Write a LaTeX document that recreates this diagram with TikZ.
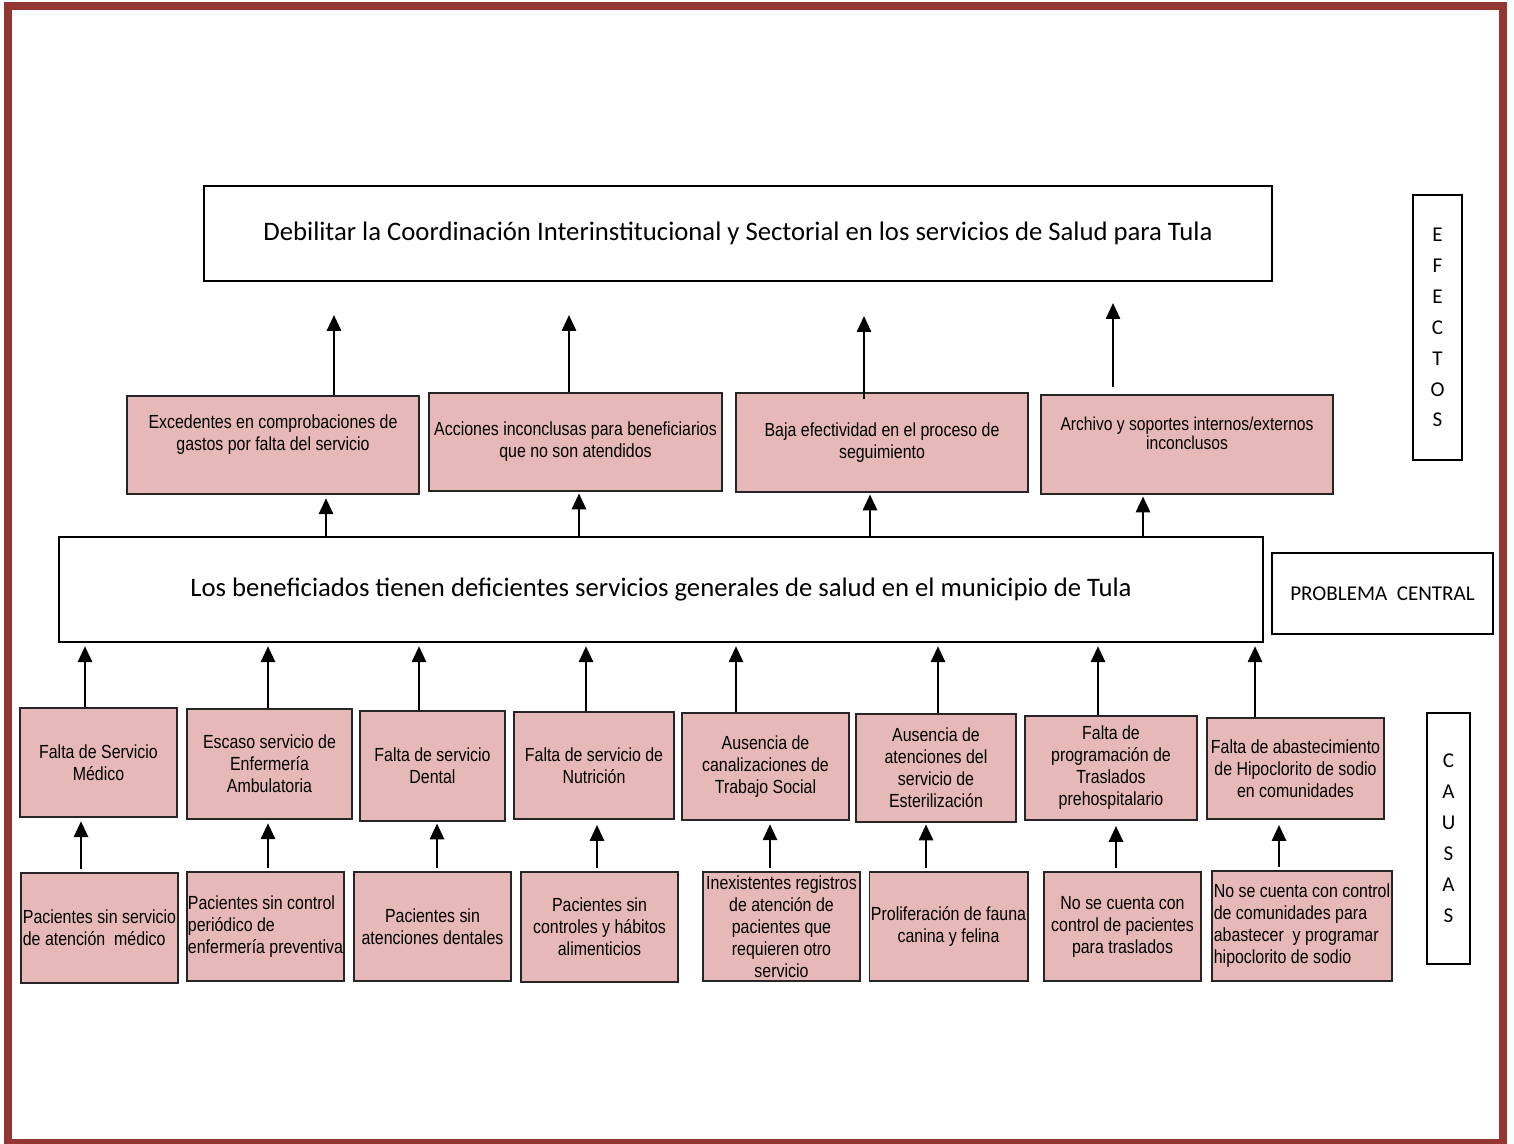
\documentclass[tikz,border=0pt]{standalone}
\usepackage{fontspec}
\setmainfont{Carlito}
\newfontfamily\narrowfont[FakeStretch=0.84]{Liberation Sans}
\usetikzlibrary{arrows.meta}
\definecolor{framered}{RGB}{148,54,52}
\definecolor{boxpink}{RGB}{230,184,183}

\begin{document}
\begin{tikzpicture}[%
    x=0.02cm, y=-0.02cm,
    every node/.style={inner sep=1pt},
    wide/.style={draw, line width=0.8pt, font=\fontsize{15.2}{18}\selectfont},
    tag/.style={draw, line width=0.8pt, align=center, font=\fontsize{12}{17.6}\selectfont},
    box/.style={draw=black!85, fill=boxpink, line width=0.8pt, align=center,
      font=\narrowfont\fontsize{10.8}{12.5}\selectfont},
    leftbox/.style={box, align=left, inner xsep=0pt},
    up/.style={-{Triangle[width=8pt,length=9pt]}, line width=1.4pt}
  ]
  \useasboundingbox (0,0) rectangle (1514,1143);
  \draw[framered, line width=4.6pt] (8,6) rectangle (1503,1143);

  % efectos
  \node[wide, minimum width=21.36cm, minimum height=1.9cm] (Top) at (738,233.5)
    {Debilitar la Coordinación Interinstitucional y Sectorial en los servicios de Salud para Tula};
  \node[box, minimum width=5.84cm, minimum height=1.96cm] (E1) at (273,445)
    {Excedentes en comprobaciones de\\gastos por falta del servicio\\[2pt]};
  \node[box, minimum width=5.86cm, minimum height=1.96cm] (E2) at (575.5,442)
    {Acciones inconclusas para beneficiarios\\que no son atendidos};
  \node[box, minimum width=5.84cm, minimum height=1.98cm] (E3) at (882,442.5)
    {Baja efectividad en el proceso de\\seguimiento};
  \node[box, minimum width=5.84cm, minimum height=1.98cm,
    font=\narrowfont\fontsize{10.6}{11}\selectfont] (E4) at (1187,444.5)
    {Archivo y soportes internos/externos\\inconclusos\\[2pt]};

  % problema central
  \node[wide, minimum width=24.08cm, minimum height=2.1cm] (Central) at (661,589.5)
    {Los beneficiados tienen deficientes servicios generales de salud en el municipio de Tula};

  % causas
  \node[box, minimum width=3.14cm, minimum height=2.18cm] (C1) at (98.5,762.5)
    {Falta de Servicio\\Médico};
  \node[box, minimum width=3.3cm, minimum height=2.2cm] (C2) at (269.5,764)
    {Escaso servicio de\\Enfermería\\Ambulatoria};
  \node[box, minimum width=2.9cm, minimum height=2.2cm] (C3) at (432.5,766)
    {Falta de servicio\\Dental};
  \node[box, minimum width=3.2cm, minimum height=2.14cm] (C4) at (594,765.5)
    {Falta de servicio de\\Nutrición};
  \node[box, minimum width=3.34cm, minimum height=2.14cm] (C5) at (765.5,766.5)
    {Ausencia de\\canalizaciones de\\Trabajo Social};
  \node[box, minimum width=3.2cm, minimum height=2.16cm] (C6) at (936,768)
    {Ausencia de\\atenciones del\\servicio de\\Esterilización};
  \node[box, minimum width=3.44cm, minimum height=2.08cm] (C7) at (1111,768)
    {Falta de\\programación de\\Traslados\\prehospitalario};
  \node[box, minimum width=3.54cm, minimum height=2.02cm] (C8) at (1295.5,768.5)
    {Falta de abastecimiento\\de Hipoclorito de sodio\\en comunidades};

  \node[leftbox, minimum width=3.14cm, minimum height=2.2cm] (R1) at (99.5,928)
    {Pacientes sin servicio\\de atención~ médico};
  \node[leftbox, minimum width=3.14cm, minimum height=2.18cm] (R2) at (265.5,926.5)
    {Pacientes sin control\\periódico de\\enfermería preventiva};
  \node[box, minimum width=3.14cm, minimum height=2.18cm] (R3) at (432.5,926.5)
    {Pacientes sin\\atenciones dentales};
  \node[box, minimum width=3.14cm, minimum height=2.2cm] (R4) at (599.5,927)
    {Pacientes sin\\controles y hábitos\\alimenticios};
  \node[box, minimum width=3.14cm, minimum height=2.18cm] (R5) at (781.5,926.5)
    {Inexistentes registros\\de atención de\\pacientes que\\requieren otro\\servicio};
  \node[box, minimum width=3.14cm, minimum height=2.18cm] (R6) at (948.5,926.5)
    {Proliferación de fauna\\canina y felina};
  \node[box, minimum width=3.14cm, minimum height=2.18cm] (R7) at (1122.5,926.5)
    {No se cuenta con\\control de pacientes\\para traslados};
  \node[leftbox, minimum width=3.6cm, minimum height=2.2cm] (R8) at (1302,926)
    {No se cuenta con control\\de comunidades para\\abastecer~ y programar\\hipoclorito de sodio};

  % etiquetas laterales
  \node[tag, minimum width=0.98cm, minimum height=5.3cm] (Efectos) at (1437.5,327.5)
    {E\\F\\E\\C\\T\\O\\S};
  \node[tag, minimum width=4.42cm, minimum height=1.62cm] (Problema) at (1382.5,593.5)
    {PROBLEMA~ CENTRAL};
  \node[tag, minimum width=0.86cm, minimum height=5.02cm] (Causas) at (1448.5,838.5)
    {C\\A\\U\\S\\A\\S};

  % flechas
  \coordinate (T1) at (334,315);
  \coordinate (T2) at (569,315);
  \coordinate (T3) at (864,316);
  \coordinate (T4) at (1113,303);
  \draw[up] (E1.north -| T1) -- (T1);
  \draw[up] (E2.north -| T2) -- (T2);
  \draw[up] ([yshift=-0.14cm]E3.north -| T3) -- (T3);
  \draw[up] ([yshift=0.14cm]E4.north -| T4) -- (T4);

  \draw[up, shorten >=2pt] ([xshift=1.06cm]E1.south |- Central.north) -- ([xshift=1.06cm]E1.south);
  \draw[up, shorten >=1pt] ([xshift=0.07cm]E2.south |- Central.north) -- ([xshift=0.07cm]E2.south);
  \draw[up, shorten >=1pt] ([xshift=-0.24cm]E3.south |- Central.north) -- ([xshift=-0.24cm]E3.south);
  \draw[up, shorten >=1pt] ([xshift=-0.88cm]E4.south |- Central.north) -- ([xshift=-0.88cm]E4.south);

  \draw[up, shorten >=2pt] ([xshift=-0.27cm]C1.north) -- ([xshift=-0.27cm]C1.north |- Central.south);
  \draw[up, shorten >=2pt] ([xshift=-0.03cm]C2.north) -- ([xshift=-0.03cm]C2.north |- Central.south);
  \draw[up, shorten >=2pt] ([xshift=-0.27cm]C3.north) -- ([xshift=-0.27cm]C3.north |- Central.south);
  \draw[up, shorten >=2pt] ([xshift=-0.16cm]C4.north) -- ([xshift=-0.16cm]C4.north |- Central.south);
  \draw[up, shorten >=2pt] ([xshift=-0.59cm]C5.north) -- ([xshift=-0.59cm]C5.north |- Central.south);
  \draw[up, shorten >=2pt] ([xshift=0.04cm]C6.north) -- ([xshift=0.04cm]C6.north |- Central.south);
  \draw[up, shorten >=2pt] ([xshift=-0.26cm]C7.north) -- ([xshift=-0.26cm]C7.north |- Central.south);
  \draw[up, shorten >=2pt] ([xshift=-0.81cm]C8.north) -- ([xshift=-0.81cm]C8.north |- Central.south);

  \draw[up, shorten <=2pt, shorten >=2pt] ([xshift=-0.37cm]R1.north) -- ([xshift=-0.37cm]R1.north |- C1.south);
  \draw[up, shorten <=2pt, shorten >=2pt] ([xshift=0.05cm]R2.north) -- ([xshift=0.05cm]R2.north |- C2.south);
  \draw[up, shorten <=2pt, shorten >=1pt] ([xshift=0.09cm]R3.north) -- ([xshift=0.09cm]R3.north |- C3.south);
  \draw[up, shorten <=2pt, shorten >=3pt] ([xshift=-0.05cm]R4.north) -- ([xshift=-0.05cm]R4.north |- C4.south);
  \draw[up, shorten <=2pt, shorten >=2pt] ([xshift=-0.23cm]R5.north) -- ([xshift=-0.23cm]R5.north |- C5.south);
  \draw[up, shorten <=2pt, shorten >=1pt] ([xshift=-0.45cm]R6.north) -- ([xshift=-0.45cm]R6.north |- C6.south);
  \draw[up, shorten <=2pt, shorten >=3pt] ([xshift=-0.13cm]R7.north) -- ([xshift=-0.13cm]R7.north |- C7.south);
  \draw[up, shorten <=2pt, shorten >=3pt] ([xshift=-0.46cm]R8.north) -- ([xshift=-0.46cm]R8.north |- C8.south);
\end{tikzpicture}
\end{document}
